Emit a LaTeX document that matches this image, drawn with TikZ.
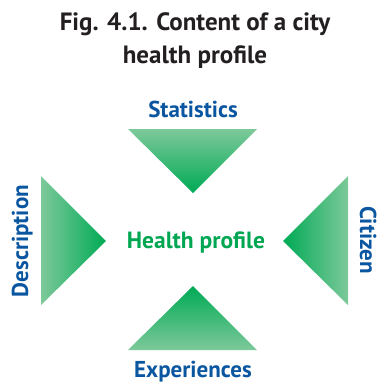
\documentclass[tikz,border=0pt]{standalone}
\usepackage{fontspec}
\setmainfont{PT Sans}
\definecolor{titlegray}{HTML}{231F20}
\definecolor{lblblue}{HTML}{0A56A0}
\definecolor{hgreen}{HTML}{00A651}
\definecolor{tridark}{HTML}{00AA55}
\definecolor{trilight}{HTML}{7DC99A}
\begin{document}
\begin{tikzpicture}[x=1pt,y=-1pt,
  title/.style={font=\bfseries\fontsize{25}{30}\selectfont, text=titlegray, inner sep=0pt, anchor=base},
  lbl/.style={font=\bfseries\fontsize{23}{27}\selectfont, text=lblblue, inner sep=0pt, anchor=base},
  centre/.style={font=\bfseries\fontsize{23.5}{28}\selectfont, text=hgreen, inner sep=0pt, anchor=base}]
\useasboundingbox (0,0) rectangle (377,384);
% title
\node[title] (t1) at (195,30) {Fig. 4.1. Content of a city};
\node[title] (t2) at (195,63) {health profile};
% labels
\node[lbl] (stat) at (193,117) {Statistics};
\node[lbl] (exp) at (193,377) {Experiences};
\node[lbl, rotate=90] (desc) at (28,241) {Description};
\node[lbl, rotate=-90] (cit) at (360,240) {Citizen};
\node[centre] (hp) at (196,248) {Health profile};
% triangles
\coordinate (tL) at (128,129); \coordinate (tR) at (257,129); \coordinate (tA) at (193,193);
\coordinate (bL) at (128,350); \coordinate (bR) at (257,350); \coordinate (bA) at (193,286);
\coordinate (lT) at (41,176); \coordinate (lB) at (41,305); \coordinate (lA) at (106,241);
\coordinate (rT) at (348,176); \coordinate (rB) at (348,305); \coordinate (rA) at (283,241);
\shade[top color=trilight, bottom color=tridark] (tL) -- (tR) -- (tA) -- cycle;
\shade[top color=tridark, bottom color=trilight] (bA) -- (bR) -- (bL) -- cycle;
\shade[left color=trilight, right color=tridark] (lT) -- (lA) -- (lB) -- cycle;
\shade[left color=tridark, right color=trilight] (rA) -- (rT) -- (rB) -- cycle;
\end{tikzpicture}
\end{document}
